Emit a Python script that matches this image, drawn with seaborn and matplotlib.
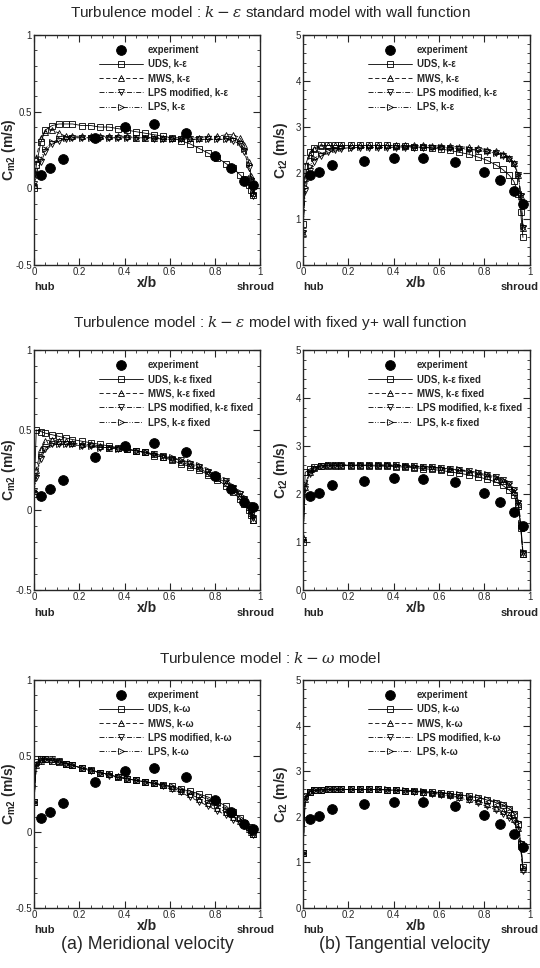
import numpy as np
import pandas as pd
import matplotlib
matplotlib.use("Agg")
import matplotlib.pyplot as plt
from matplotlib.ticker import MultipleLocator
import seaborn as sns

# --- data ---
X = [0.0, 0.01, 0.03, 0.05, 0.08, 0.11, 0.14, 0.17, 0.21, 0.25, 0.29, 0.33, 0.37, 0.41, 0.45, 0.49,
     0.53, 0.57, 0.61, 0.65, 0.69, 0.73, 0.77, 0.81, 0.85, 0.88, 0.91, 0.93, 0.95, 0.96, 0.97]

EXP_X = [0.03, 0.07, 0.13, 0.27, 0.40, 0.53, 0.67, 0.80, 0.87, 0.93, 0.97]
EXP_CM2 = [0.09, 0.13, 0.19, 0.33, 0.40, 0.42, 0.36, 0.21, 0.13, 0.05, 0.02]
EXP_CT2 = [1.95, 2.02, 2.18, 2.27, 2.33, 2.32, 2.24, 2.03, 1.84, 1.62, 1.33]

# k-epsilon standard, wall function
KE_CM2_UDS = [0.00, 0.15, 0.30, 0.38, 0.41, 0.42, 0.42, 0.42, 0.41, 0.41, 0.40, 0.40, 0.39, 0.38, 0.37, 0.36,
              0.35, 0.34, 0.33, 0.31, 0.29, 0.26, 0.23, 0.20, 0.16, 0.13, 0.09, 0.06, 0.02, -0.01, -0.04]
KE_CM2_MWS = [0.02, 0.20, 0.33, 0.37, 0.38, 0.36, 0.34, 0.34, 0.34, 0.34, 0.34, 0.34, 0.34, 0.34, 0.33, 0.33,
              0.33, 0.33, 0.33, 0.33, 0.33, 0.33, 0.34, 0.34, 0.35, 0.35, 0.33, 0.28, 0.17, 0.08, -0.03]
KE_CM2_LPSM = [0.03, 0.09, 0.17, 0.24, 0.29, 0.31, 0.32, 0.33, 0.33, 0.33, 0.33, 0.33, 0.33, 0.33, 0.33, 0.33,
               0.32, 0.32, 0.32, 0.32, 0.32, 0.32, 0.32, 0.32, 0.32, 0.31, 0.29, 0.24, 0.13, 0.05, -0.05]
KE_CM2_LPS = [0.03, 0.10, 0.19, 0.26, 0.30, 0.32, 0.33, 0.33, 0.33, 0.33, 0.33, 0.33, 0.33, 0.33, 0.33, 0.33,
              0.33, 0.32, 0.32, 0.32, 0.32, 0.32, 0.32, 0.32, 0.32, 0.32, 0.30, 0.26, 0.16, 0.07, -0.03]

KE_CT2_UDS = [0.9, 2.15, 2.45, 2.55, 2.6, 2.6, 2.6, 2.6, 2.6, 2.6, 2.6, 2.6, 2.6, 2.59, 2.58, 2.57,
              2.56, 2.54, 2.52, 2.49, 2.45, 2.41, 2.35, 2.28, 2.18, 2.08, 1.95, 1.82, 1.55, 1.15, 0.6]
KE_CT2_MWS = [0.7, 1.9, 2.4, 2.52, 2.58, 2.6, 2.6, 2.6, 2.6, 2.6, 2.6, 2.6, 2.6, 2.6, 2.6, 2.6,
              2.6, 2.59, 2.59, 2.58, 2.57, 2.56, 2.54, 2.51, 2.47, 2.42, 2.33, 2.22, 1.95, 1.5, 0.8]
KE_CT2_LPSM = [0.7, 1.6, 2.05, 2.25, 2.38, 2.45, 2.5, 2.52, 2.54, 2.55, 2.55, 2.55, 2.55, 2.55, 2.55, 2.55,
               2.55, 2.55, 2.55, 2.54, 2.53, 2.51, 2.49, 2.46, 2.43, 2.38, 2.3, 2.2, 1.95, 1.5, 0.8]
KE_CT2_LPS = [0.75, 1.7, 2.15, 2.32, 2.42, 2.48, 2.52, 2.54, 2.55, 2.56, 2.56, 2.56, 2.56, 2.56, 2.56, 2.56,
              2.56, 2.56, 2.56, 2.55, 2.54, 2.52, 2.5, 2.47, 2.44, 2.4, 2.32, 2.22, 1.98, 1.55, 0.85]

# k-epsilon, fixed y+ wall function
KEF_CM2_UDS = [0.10, 0.50, 0.49, 0.48, 0.47, 0.46, 0.45, 0.44, 0.43, 0.42, 0.41, 0.40, 0.39, 0.38, 0.37, 0.36,
               0.34, 0.33, 0.31, 0.29, 0.27, 0.25, 0.22, 0.19, 0.15, 0.11, 0.07, 0.04, 0.0, -0.03, -0.06]
KEF_CM2_MWS = [0.12, 0.25, 0.38, 0.43, 0.44, 0.43, 0.43, 0.42, 0.41, 0.41, 0.40, 0.39, 0.39, 0.38, 0.37, 0.36,
               0.35, 0.33, 0.32, 0.30, 0.28, 0.26, 0.23, 0.20, 0.17, 0.13, 0.09, 0.06, 0.02, -0.02, -0.06]
KEF_CM2_LPSM = [0.12, 0.20, 0.32, 0.38, 0.41, 0.41, 0.41, 0.41, 0.40, 0.40, 0.39, 0.39, 0.38, 0.38, 0.37, 0.36,
                0.35, 0.34, 0.32, 0.31, 0.29, 0.27, 0.24, 0.21, 0.18, 0.14, 0.10, 0.07, 0.03, -0.01, -0.05]
KEF_CM2_LPS = [0.12, 0.22, 0.34, 0.39, 0.41, 0.41, 0.41, 0.41, 0.40, 0.40, 0.39, 0.39, 0.38, 0.38, 0.37, 0.36,
               0.35, 0.34, 0.33, 0.31, 0.30, 0.28, 0.25, 0.22, 0.19, 0.15, 0.11, 0.08, 0.04, 0.0, -0.04]

KEF_CT2_UDS = [1.0, 2.45, 2.52, 2.56, 2.58, 2.59, 2.59, 2.59, 2.59, 2.59, 2.59, 2.58, 2.58, 2.57, 2.56, 2.55,
               2.53, 2.51, 2.49, 2.46, 2.43, 2.4, 2.36, 2.31, 2.25, 2.18, 2.08, 1.98, 1.75, 1.3, 0.75]
KEF_CT2_MWS = [1.1, 2.15, 2.45, 2.55, 2.59, 2.6, 2.6, 2.6, 2.6, 2.6, 2.6, 2.6, 2.6, 2.59, 2.58, 2.57,
               2.56, 2.55, 2.53, 2.51, 2.49, 2.46, 2.42, 2.38, 2.32, 2.26, 2.17, 2.05, 1.8, 1.35, 0.75]
KEF_CT2_LPSM = [1.05, 2.1, 2.42, 2.53, 2.58, 2.6, 2.6, 2.6, 2.6, 2.6, 2.6, 2.6, 2.6, 2.6, 2.59, 2.58,
                2.57, 2.56, 2.54, 2.52, 2.5, 2.47, 2.44, 2.4, 2.35, 2.29, 2.2, 2.08, 1.82, 1.35, 0.78]
KEF_CT2_LPS = [1.05, 2.2, 2.46, 2.55, 2.59, 2.6, 2.6, 2.6, 2.6, 2.6, 2.6, 2.6, 2.6, 2.6, 2.59, 2.58,
               2.57, 2.56, 2.55, 2.53, 2.51, 2.48, 2.45, 2.41, 2.36, 2.3, 2.22, 2.1, 1.85, 1.4, 0.8]

# k-omega
KW_CM2_UDS = [0.20, 0.46, 0.48, 0.48, 0.47, 0.46, 0.45, 0.44, 0.42, 0.41, 0.39, 0.38, 0.36, 0.35, 0.34, 0.33,
              0.32, 0.31, 0.30, 0.28, 0.27, 0.25, 0.23, 0.20, 0.17, 0.13, 0.09, 0.06, 0.03, 0.01, -0.01]
KW_CM2_MWS = [0.20, 0.44, 0.47, 0.48, 0.48, 0.47, 0.45, 0.44, 0.42, 0.41, 0.39, 0.38, 0.37, 0.35, 0.34, 0.33,
              0.32, 0.31, 0.29, 0.27, 0.25, 0.22, 0.19, 0.16, 0.13, 0.10, 0.07, 0.05, 0.02, 0.0, -0.01]
KW_CM2_LPSM = [0.20, 0.44, 0.47, 0.48, 0.48, 0.47, 0.45, 0.44, 0.42, 0.40, 0.39, 0.37, 0.36, 0.35, 0.34, 0.33,
               0.32, 0.30, 0.28, 0.26, 0.23, 0.20, 0.17, 0.14, 0.11, 0.08, 0.06, 0.04, 0.02, 0.0, -0.02]
KW_CM2_LPS = [0.20, 0.45, 0.48, 0.48, 0.47, 0.46, 0.45, 0.44, 0.42, 0.41, 0.39, 0.38, 0.36, 0.35, 0.34, 0.33,
              0.32, 0.31, 0.30, 0.28, 0.26, 0.24, 0.21, 0.18, 0.15, 0.12, 0.09, 0.06, 0.03, 0.01, 0.0]

KW_CT2_UDS = [1.2, 2.45, 2.55, 2.58, 2.59, 2.6, 2.6, 2.6, 2.6, 2.6, 2.6, 2.6, 2.59, 2.58, 2.57, 2.56,
              2.55, 2.54, 2.52, 2.5, 2.48, 2.45, 2.42, 2.37, 2.31, 2.25, 2.17, 2.07, 1.85, 1.4, 0.9]
KW_CT2_MWS = [1.2, 2.4, 2.54, 2.58, 2.59, 2.6, 2.6, 2.6, 2.6, 2.6, 2.6, 2.6, 2.59, 2.58, 2.57, 2.56,
              2.54, 2.52, 2.5, 2.47, 2.43, 2.39, 2.34, 2.28, 2.2, 2.12, 2.03, 1.95, 1.75, 1.35, 0.85]
KW_CT2_LPSM = [1.2, 2.4, 2.54, 2.58, 2.59, 2.6, 2.6, 2.6, 2.6, 2.6, 2.6, 2.6, 2.59, 2.58, 2.57, 2.55,
               2.53, 2.51, 2.48, 2.45, 2.41, 2.36, 2.3, 2.23, 2.15, 2.07, 1.98, 1.9, 1.7, 1.3, 0.82]
KW_CT2_LPS = [1.2, 2.45, 2.55, 2.58, 2.59, 2.6, 2.6, 2.6, 2.6, 2.6, 2.6, 2.6, 2.6, 2.59, 2.58, 2.57,
              2.56, 2.55, 2.53, 2.51, 2.49, 2.46, 2.43, 2.38, 2.33, 2.27, 2.19, 2.09, 1.88, 1.45, 0.9]

SCHEMES = ["UDS", "MWS", "LPS modified", "LPS"]
TITLES = [r"Turbulence model : $k-\varepsilon$ standard model with wall function",
          r"Turbulence model : $k-\varepsilon$ model with fixed y+ wall function",
          r"Turbulence model : $k-\omega$ model"]
SUFFIXES = ["k-ε", "k-ε fixed", "k-ω"]

rows = [
    ([KE_CM2_UDS, KE_CM2_MWS, KE_CM2_LPSM, KE_CM2_LPS], [KE_CT2_UDS, KE_CT2_MWS, KE_CT2_LPSM, KE_CT2_LPS]),
    ([KEF_CM2_UDS, KEF_CM2_MWS, KEF_CM2_LPSM, KEF_CM2_LPS], [KEF_CT2_UDS, KEF_CT2_MWS, KEF_CT2_LPSM, KEF_CT2_LPS]),
    ([KW_CM2_UDS, KW_CM2_MWS, KW_CM2_LPSM, KW_CM2_LPS], [KW_CT2_UDS, KW_CT2_MWS, KW_CT2_LPSM, KW_CT2_LPS]),
]

# --- style ---
sns.set_style("ticks")
plt.rcParams.update({
    "font.family": ["Liberation Sans", "DejaVu Sans"],
    "mathtext.fontset": "dejavuserif",
    "axes.linewidth": 1.0,
    "xtick.direction": "in",
    "ytick.direction": "in",
    "xtick.top": True,
    "ytick.right": True,
    "xtick.major.size": 5,
    "ytick.major.size": 5,
    "xtick.minor.size": 2.5,
    "ytick.minor.size": 2.5,
    "xtick.labelsize": 7,
    "ytick.labelsize": 7,
    "xtick.major.pad": 1.5,
    "ytick.major.pad": 1.5,
})

markers = ["s", "^", "v", ">"]
styles = ["-", (0, (5, 3)), (0, (6, 2, 1, 2)), (0, (6, 2, 1, 2, 1, 2))]

fig = plt.figure(figsize=(5.4, 9.68), dpi=100)
row_boxes = [(0.7262, 0.2376), (0.3905, 0.2480), (0.0620, 0.2355)]
title_y = [0.9876, 0.6663, 0.3202]
col_x = [(0.063, 0.419), (0.561, 0.420)]

for r, (cm_series, ct_series) in enumerate(rows):
    bottom, height = row_boxes[r]
    for c, series in enumerate([cm_series, ct_series]):
        left, width = col_x[c]
        ax = fig.add_axes([left, bottom, width, height])
        exp_y = EXP_CM2 if c == 0 else EXP_CT2

        sns.scatterplot(x=EXP_X, y=exp_y, color="black", s=50, edgecolor="black",
                        marker="o", ax=ax, label="experiment", zorder=5)
        for i, name in enumerate(SCHEMES):
            df = pd.DataFrame({"x": X, "y": series[i]})
            sns.lineplot(data=df, x="x", y="y", ax=ax, sort=False, estimator=None,
                         color="black", linewidth=0.6, linestyle=styles[i],
                         marker=markers[i], markersize=4.4, markerfacecolor="none",
                         markeredgecolor="black", markeredgewidth=0.6,
                         label=f"{name}, {SUFFIXES[r]}")

        ax.set_xlim(0, 1)
        if c == 0:
            ax.set_ylim(-0.5, 1)
            ax.set_yticks([-0.5, 0, 0.5, 1])
            ax.set_yticklabels(["-0.5", "0", "0.5", "1"])
            ax.yaxis.set_minor_locator(MultipleLocator(0.1))
            ax.set_ylabel(r"C$_{\mathregular{m2}}$ (m/s)", fontsize=10, fontweight="bold")
            ax.yaxis.set_label_coords(-0.072, 0.5)
        else:
            ax.set_ylim(0, 5)
            ax.set_yticks([0, 1, 2, 3, 4, 5])
            ax.yaxis.set_minor_locator(MultipleLocator(0.2))
            ax.set_ylabel(r"C$_{\mathregular{t2}}$ (m/s)", fontsize=10, fontweight="bold")
            ax.yaxis.set_label_coords(-0.055, 0.5)
        ax.set_xticks([0, 0.2, 0.4, 0.6, 0.8, 1])
        ax.set_xticklabels(["0", "0.2", "0.4", "0.6", "0.8", "1"])
        ax.xaxis.set_minor_locator(MultipleLocator(0.05))
        ax.set_xlabel("x/b", fontsize=10, fontweight="bold", labelpad=-1)
        ax.text(0.0, -0.075, "hub", transform=ax.transAxes, fontsize=8,
                fontweight="bold", ha="left", va="top")
        if c == 0:
            ax.text(0.98, -0.075, "shroud", transform=ax.transAxes, fontsize=8,
                    fontweight="bold", ha="center", va="top")
        else:
            ax.text(1.038, -0.075, "shroud", transform=ax.transAxes, fontsize=8,
                    fontweight="bold", ha="right", va="top")

        ax.legend(loc="upper left", bbox_to_anchor=(0.27, 0.975), frameon=False,
                  prop={"size": 6.9, "weight": "bold"}, handlelength=4.6,
                  labelspacing=0.45, handletextpad=0.5, borderaxespad=0)

    fig.text(0.5, title_y[r], TITLES[r], ha="center", va="center", fontsize=11)

fig.text(0.272, 0.0238, "(a) Meridional velocity", ha="center", va="center", fontsize=12.8)
fig.text(0.75, 0.0238, "(b) Tangential velocity", ha="center", va="center", fontsize=12.8)

fig.savefig("out.png", dpi=100)
